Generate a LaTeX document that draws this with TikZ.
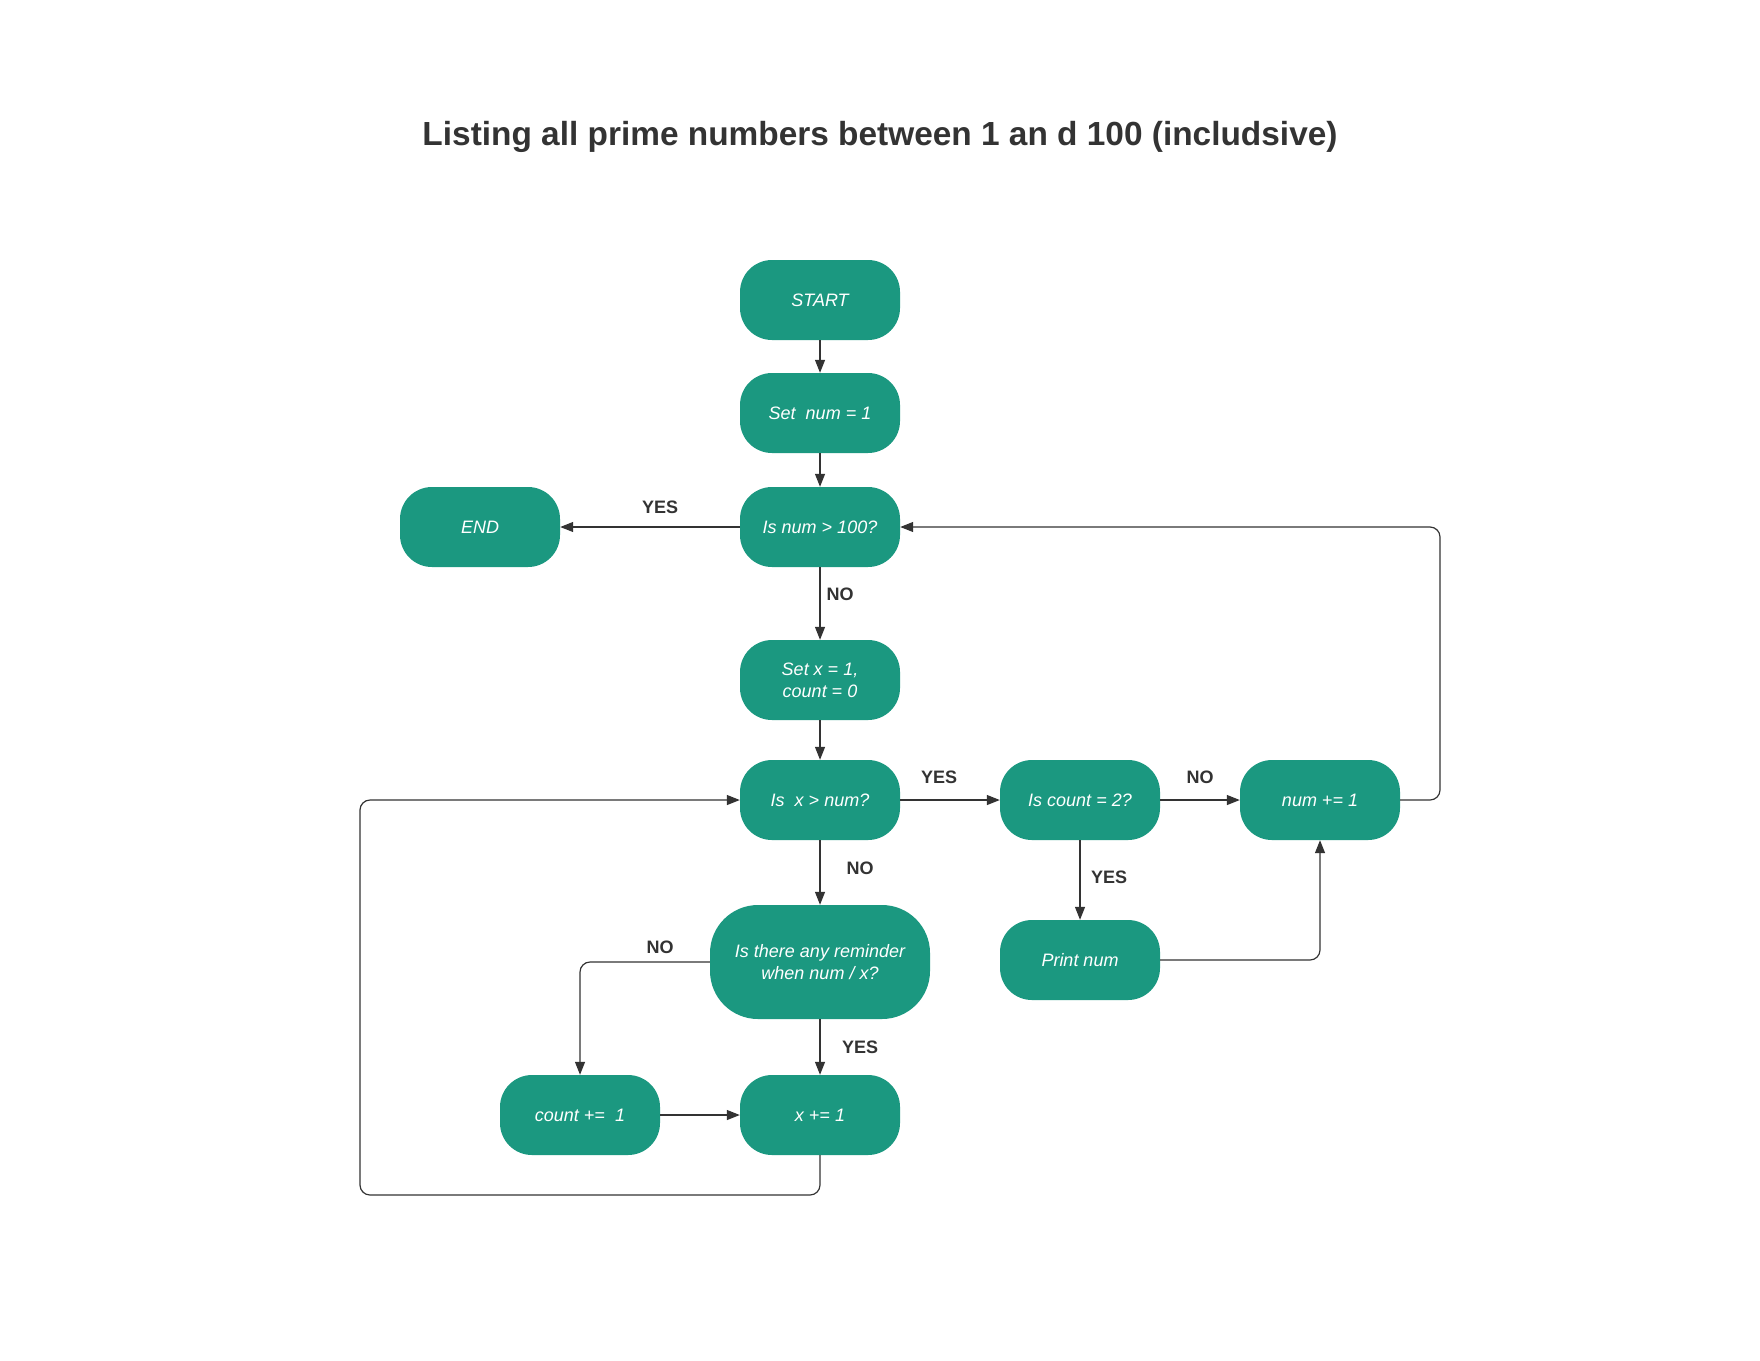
\documentclass[tikz,border=0pt]{standalone}
\usepackage{fontspec}
\setmainfont{Liberation Sans}
\usetikzlibrary{arrows.meta}
\definecolor{boxteal}{HTML}{1B9880}
\definecolor{ink}{HTML}{333333}

\begin{document}
\begin{tikzpicture}[x=1pt, y=-1pt,
    box/.style={fill=boxteal, text=white, rounded corners=32pt,
        minimum width=160pt, minimum height=80pt, inner sep=0pt,
        align=center, font=\fontsize{18}{22}\selectfont\itshape},
    lbl/.style={text=ink, font=\fontsize{18}{21}\selectfont\bfseries},
    arr/.style={draw=ink, line width=1.2pt, rounded corners=10pt,
        -{Triangle[length=13pt,width=10pt]}}]
    \useasboundingbox (0,0) rectangle (1760,1360);

    % Title.
    \node[text=ink, font=\fontsize{33.4}{40}\selectfont\bfseries] (title) at (880,137)
        {Listing all prime numbers between 1 an d 100 (includsive)};

    % Main column.
    \node[box] (start)  at (820,300)  {START};
    \node[box] (setnum) at (820,413)  {Set~~num = 1};
    \node[box] (isnum)  at (820,527)  {Is num > 100?};
    \node[box] (setx)   at (820,680)  {Set x = 1,\\count = 0};
    \node[box] (isx)    at (820,800)  {Is~~x > num?};
    \node[box, minimum width=220pt, minimum height=114pt, rounded corners=48pt]
                        (rem)    at (820,962)  {Is there any reminder\\when num / x?};
    \node[box] (xinc)   at (820,1115) {x += 1};

    % Side nodes.
    \node[box] (endn)    at (480,527)  {END};
    \node[box] (cntinc)  at (580,1115) {count +=~~1};
    \node[box] (iscount) at (1080,800) {Is count = 2?};
    \node[box] (print)   at (1080,960) {Print num};
    \node[box] (numinc)  at (1320,800) {num += 1};

    % Loop corners.
    \coordinate (lpbot) at (360,1195);
    \coordinate (rttop) at (1440,527);

    % Arrows.
    \draw[arr] (start) -- (setnum);
    \draw[arr] (setnum) -- (isnum);
    \draw[arr] (isnum) -- (endn);
    \draw[arr] (isnum) -- (setx);
    \draw[arr] (setx) -- (isx);
    \draw[arr] (isx) -- (iscount);
    \draw[arr] (iscount) -- (numinc);
    \draw[arr] (iscount) -- (print);
    \draw[arr] (isx) -- (rem);
    \draw[arr] (rem) -- (xinc);
    \draw[arr] (rem.west) -| (cntinc.north);
    \draw[arr] (cntinc) -- (xinc);
    \draw[arr] (print.east) -| (numinc.south);
    \draw[arr] (xinc.south) |- (lpbot) |- (isx.west);
    \draw[arr] (numinc.east) -| (rttop) -- (isnum.east);

    % Labels.
    \node[lbl] (l1) at (660,507)  {YES};
    \node[lbl] (l2) at (840,594)  {NO};
    \node[lbl] (l3) at (939,777)  {YES};
    \node[lbl] (l4) at (1200,777) {NO};
    \node[lbl] (l5) at (860,868)  {NO};
    \node[lbl] (l6) at (1109,877) {YES};
    \node[lbl] (l7) at (660,947)  {NO};
    \node[lbl] (l8) at (860,1047) {YES};
\end{tikzpicture}
\end{document}
